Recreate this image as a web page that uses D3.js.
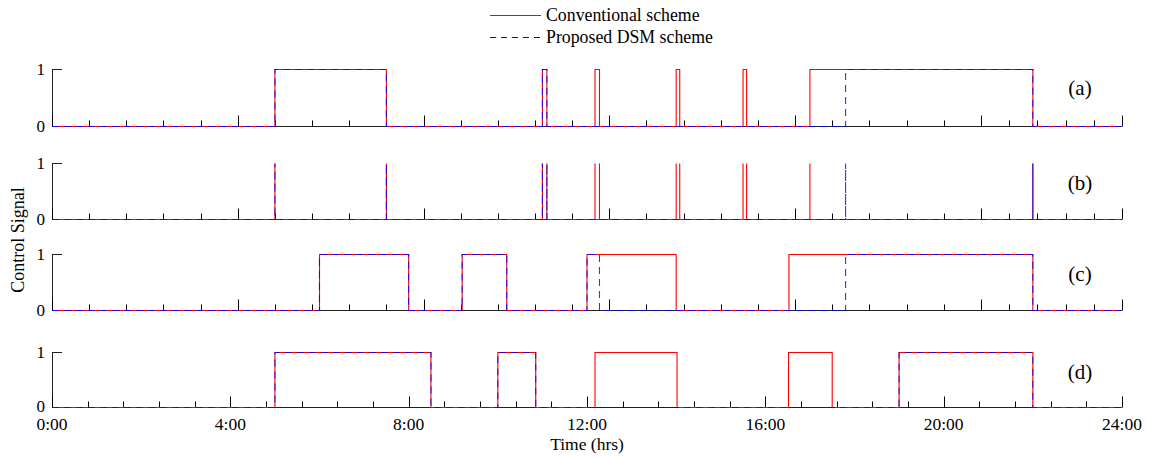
<!DOCTYPE html>
<html>
<head>
<meta charset="utf-8">
<script src="https://cdn.jsdelivr.net/npm/d3@7/dist/d3.min.js"></script>
<style>
  body { margin: 0; background: #fff; }
  text { font-family: "Liberation Serif", "Times New Roman", serif; fill: #000; }
</style>
</head>
<body>
<div id="chart"></div>
<script>
// switching intervals in hours, [on, off]
const conventionalA = [[5.0, 7.5], [11.0, 11.1], [12.18, 12.28], [14.0, 14.08], [15.5, 15.58], [17.0, 22.0]];
const proposedA = [[5.0, 7.5], [11.0, 11.1], [17.8, 22.0]];
// panel (b) only shows the switching instants
const conventionalB = [5.0, 7.5, 11.0, 11.1, 12.18, 12.28, 14.0, 14.08, 15.5, 15.58, 17.0, 22.0];
const proposedB = [5.0, 7.5, 11.0, 11.1, 17.8, 22.0];
const conventionalC = [[6.0, 8.0], [9.2, 10.2], [12.0, 14.0], [16.53, 22.0]];
const proposedC = [[6.0, 8.0], [9.2, 10.2], [12.0, 12.28], [17.8, 22.0]];
const conventionalD = [[5.0, 8.5], [10.0, 10.85], [12.18, 14.02], [16.52, 17.5], [19.0, 22.0]];
const proposedD = [[5.0, 8.5], [10.0, 10.85], [19.0, 22.0]];

const panelLabels = ["(a)", "(b)", "(c)", "(d)"];
const seriesNames = ["Conventional scheme", "Proposed DSM scheme"];

// top three panels are ticked in minutes, bottom one in hours
const topMajorTicks = [0, 250, 500, 750, 1000, 1250, 1440];
const topMinorTicks = [50, 100, 150, 200, 300, 350, 400, 450, 550, 600, 650, 700,
                       800, 850, 900, 950, 1050, 1100, 1150, 1200, 1288, 1326, 1364, 1402];
const timeTickHours = [0, 4, 8, 12, 16, 20, 24];
const timeTickLabels = ["0:00", "4:00", "8:00", "12:00", "16:00", "20:00", "24:00"];
const bottomMinorTicks = [0.8, 1.6, 2.4, 3.2, 4.8, 5.6, 6.4, 7.2, 8.8, 9.6, 10.4, 11.2,
                          12.8, 13.6, 14.4, 15.2, 16.8, 17.6, 18.4, 19.2, 20.8, 21.6, 22.4, 23.2];

let svg = null;
let x = null;
let panels = null;

const width = 1150, height = 458;
const left = 52, right = 1122;
const redColor = "#ff0000", blueColor = "#0000ff";

appendSvg();
setupScales();
drawLegend();
panels.forEach(drawPanel);
drawAxisTitles();

function appendSvg() {
  svg = d3.select("#chart")
    .append("svg")
    .attr("width", width)
    .attr("height", height);
  svg.append("rect").attr("width", width).attr("height", height).attr("fill", "#fff");
}

function setupScales() {
  x = d3.scaleLinear().domain([0, 24]).range([left, right]);

  panels = [
    { top: 69.5, bottom: 126.5, conv: conventionalA, dsm: proposedA, kind: "interval", label: panelLabels[0], labelY: 88 },
    { top: 163.5, bottom: 219.5, conv: conventionalB, dsm: proposedB, kind: "spike", label: panelLabels[1], labelY: 183 },
    { top: 254.5, bottom: 310.5, conv: conventionalC, dsm: proposedC, kind: "interval", label: panelLabels[2], labelY: 274 },
    { top: 352.5, bottom: 407.5, conv: conventionalD, dsm: proposedD, kind: "interval", label: panelLabels[3], labelY: 372, bottomAxis: true }
  ];
}

function intervalPoints(intervals) {
  var pts = [[0, 0]];
  intervals.forEach(function(d) {
    pts.push([d[0], 0], [d[0], 1], [d[1], 1], [d[1], 0]);
  });
  pts.push([24, 0]);
  return pts;
}

function spikePoints(times) {
  var pts = [[0, 0]];
  times.forEach(function(t) {
    pts.push([t, 0], [t, 1], [t, 0]);
  });
  pts.push([24, 0]);
  return pts;
}

function drawPanel(p) {
  var y = d3.scaleLinear().domain([0, 1]).range([p.bottom, p.top]);
  var g = svg.append("g").attr("class", "panel");

  // axes
  g.append("line")
    .attr("x1", left).attr("x2", right)
    .attr("y1", p.bottom).attr("y2", p.bottom)
    .attr("stroke", "#222").attr("stroke-width", 1);
  g.append("line")
    .attr("x1", left + 0.5).attr("x2", left + 0.5)
    .attr("y1", p.bottom).attr("y2", p.top)
    .attr("stroke", "#222").attr("stroke-width", 1);
  g.append("line")
    .attr("x1", left).attr("x2", left + 10)
    .attr("y1", p.top).attr("y2", p.top)
    .attr("stroke", "#222").attr("stroke-width", 1);

  var major, minor;
  if (p.bottomAxis) {
    major = timeTickHours;
    minor = bottomMinorTicks;
  } else {
    major = topMajorTicks.map(function(m) { return m / 60; });
    minor = topMinorTicks.map(function(m) { return m / 60; });
  }

  g.selectAll("line.minor")
    .data(minor)
    .enter().append("line")
    .attr("class", "minor")
    .attr("x1", function(d) { return Math.round(x(d)) + 0.5; })
    .attr("x2", function(d) { return Math.round(x(d)) + 0.5; })
    .attr("y1", p.bottom).attr("y2", p.bottom - 6)
    .attr("stroke", "#000");
  g.selectAll("line.major")
    .data(major)
    .enter().append("line")
    .attr("class", "major")
    .attr("x1", function(d) { return Math.round(x(d)) + 0.5; })
    .attr("x2", function(d) { return Math.round(x(d)) + 0.5; })
    .attr("y1", p.bottom).attr("y2", p.bottom - 11)
    .attr("stroke", "#000");

  // y tick labels
  g.selectAll("text.ylab")
    .data([0, 1])
    .enter().append("text")
    .attr("class", "ylab")
    .attr("x", left - 7)
    .attr("y", function(d) { return d === 0 && p.bottomAxis ? y(d) - 1 : y(d); })
    .attr("text-anchor", "end")
    .attr("dominant-baseline", "central")
    .style("font-size", "17px")
    .text(function(d) { return d; });

  var line = d3.line()
    .x(function(d) { return x(d[0]); })
    .y(function(d) { return y(d[1]); });

  var pts = p.kind === "spike" ? spikePoints : intervalPoints;

  g.append("path")
    .attr("d", line(pts(p.conv)))
    .attr("fill", "none")
    .attr("stroke", redColor)
    .attr("stroke-width", 1.1);
  g.append("path")
    .attr("d", line(pts(p.dsm)))
    .attr("fill", "none")
    .attr("stroke", blueColor)
    .attr("stroke-width", 1.1)
    .attr("stroke-dasharray", "7,5")
    .attr("opacity", 0.8);

  g.append("text")
    .attr("x", 1080)
    .attr("y", p.labelY)
    .attr("text-anchor", "middle")
    .attr("dominant-baseline", "central")
    .style("font-size", "21px")
    .text(p.label);

  if (p.bottomAxis) {
    g.selectAll("text.xlab")
      .data(timeTickHours)
      .enter().append("text")
      .attr("class", "xlab")
      .attr("x", function(d) { return x(d); })
      .attr("y", p.bottom + 16.5)
      .attr("text-anchor", "middle")
      .attr("dominant-baseline", "central")
      .style("font-size", "17.5px")
      .text(function(d, i) { return timeTickLabels[i]; });
  }
}

function drawLegend() {
  var legend = svg.append("g").attr("class", "legend");
  var rows = [
    { name: seriesNames[0], color: redColor, dash: null, y: 15 },
    { name: seriesNames[1], color: blueColor, dash: "6,5", y: 37 }
  ];
  rows.forEach(function(r) {
    legend.append("line")
      .attr("x1", 490).attr("x2", 541)
      .attr("y1", r.y + 0.5).attr("y2", r.y + 0.5)
      .attr("stroke", r.color)
      .attr("stroke-width", 1.1)
      .attr("stroke-dasharray", r.dash);
    legend.append("text")
      .attr("x", 546)
      .attr("y", r.y)
      .attr("dominant-baseline", "central")
      .style("font-size", "17.8px")
      .text(r.name);
  });
}

function drawAxisTitles() {
  svg.append("text")
    .attr("x", 587)
    .attr("y", 444)
    .attr("text-anchor", "middle")
    .attr("dominant-baseline", "central")
    .style("font-size", "17.5px")
    .text("Time (hrs)");

  svg.append("text")
    .attr("transform", "translate(18,240) rotate(-90)")
    .attr("text-anchor", "middle")
    .attr("dominant-baseline", "central")
    .style("font-size", "18px")
    .text("Control Signal");
}
</script>
</body>
</html>
